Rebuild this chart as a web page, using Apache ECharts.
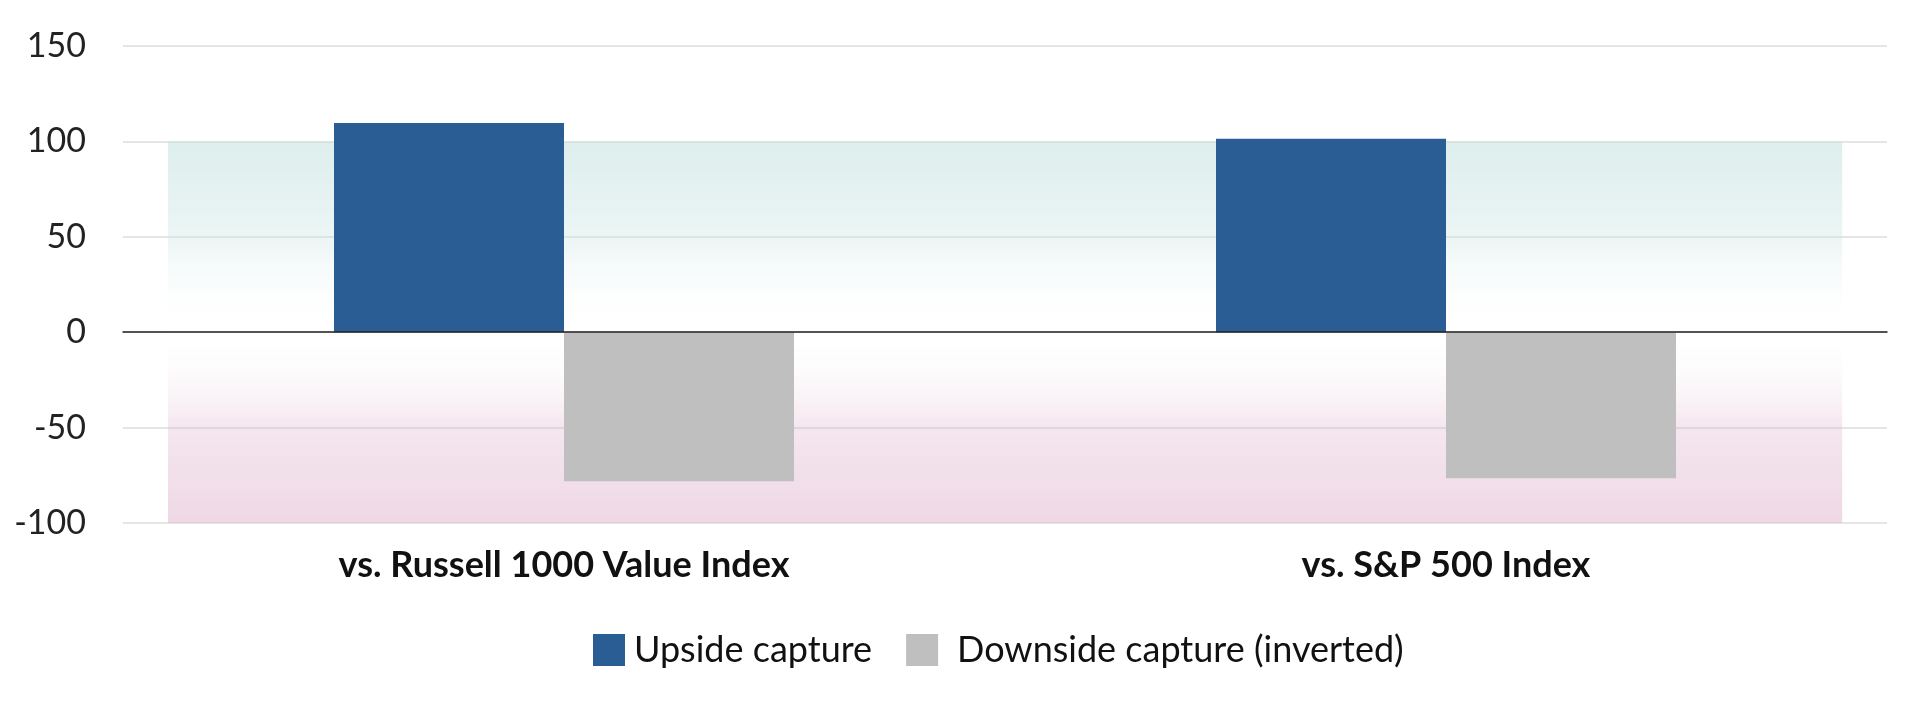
<!DOCTYPE html>
<html>
<head>
<meta charset="utf-8">
<script src="https://cdn.jsdelivr.net/npm/echarts@6/dist/echarts.min.js"></script>
<style>
  html, body { margin: 0; padding: 0; background: #fff; }
  #capture-chart { width: 1909px; height: 709px; }
</style>
</head>
<body>
<div id="capture-chart"></div>
<script>
const categories = ['vs. Russell 1000 Value Index', 'vs. S&P 500 Index'];
const upsideCapture = [109.6, 101.4];
const downsideCapture = [-78.1, -76.5];
const yTicks = [-100, -50, 0, 50, 100, 150];

function renderCapture() {
    let myChart = echarts.init(document.getElementById('capture-chart'));
    let option;

    option = {
        textStyle: { fontFamily: 'Lato' },
        animation: false,
        grid: {
            left: 123,
            right: 22,
            top: 46,
            bottom: 186
        },
        legend: {
            bottom: 36,
            left: 588,
            icon: 'rect',
            data: [
                { name: 'Upside capture' },
                { name: 'Downside capture (inverted)', textStyle: { padding: [0, 0, 0, 14] } }
            ],
            itemWidth: 32,
            itemHeight: 32,
            itemGap: 34,
            textStyle: { fontSize: 36, color: '#111', padding: [0, 0, 0, 4] }
        },
        xAxis: {
            type: 'category',
            data: categories,
            z: 5,
            axisTick: { show: false },
            axisLine: { lineStyle: { color: '#222', width: 1.5 } },
            axisLabel: {
                margin: 24,
                fontSize: 36,
                fontWeight: 'bold',
                color: '#111'
            }
        },
        yAxis: {
            type: 'value',
            min: yTicks[0],
            max: yTicks[yTicks.length - 1],
            interval: 50,
            z: 1,
            axisLine: { show: false },
            axisTick: { show: false },
            axisLabel: { fontSize: 34, color: '#222', margin: 37 },
            splitLine: { lineStyle: { color: '#dcdcdc', width: 1.5 } }
        },
        series: [
            {
                name: 'shade',
                type: 'line',
                data: [],
                z: 0,
                silent: true,
                markArea: {
                    silent: true,
                    data: [
                        [
                            {
                                x: '8.8%', yAxis: 100,
                                itemStyle: {
                                    color: new echarts.graphic.LinearGradient(0, 0, 0, 1, [
                                        { offset: 0, color: 'rgba(200, 228, 226, 0.62)' },
                                        { offset: 0.5, color: 'rgba(200, 228, 226, 0.36)' },
                                        { offset: 1, color: 'rgba(255, 255, 255, 0)' }
                                    ])
                                }
                            },
                            { x: '96.5%', yAxis: 0 }
                        ],
                        [
                            {
                                x: '8.8%', yAxis: 0,
                                itemStyle: {
                                    color: new echarts.graphic.LinearGradient(0, 0, 0, 1, [
                                        { offset: 0, color: 'rgba(255, 255, 255, 0)' },
                                        { offset: 0.5, color: 'rgba(222, 178, 204, 0.32)' },
                                        { offset: 1, color: 'rgba(222, 178, 204, 0.5)' }
                                    ])
                                }
                            },
                            { x: '96.5%', yAxis: -100 }
                        ]
                    ]
                }
            },
            {
                name: 'Upside capture',
                type: 'bar',
                data: upsideCapture,
                barWidth: 230,
                barGap: '0%',
                z: 2,
                itemStyle: { color: '#295d94' }
            },
            {
                name: 'Downside capture (inverted)',
                type: 'bar',
                data: downsideCapture,
                barWidth: 230,
                barGap: '0%',
                z: 2,
                itemStyle: { color: '#bfbfbf' }
            }
        ]
    };

    option && myChart.setOption(option);
}

renderCapture();
</script>
</body>
</html>
